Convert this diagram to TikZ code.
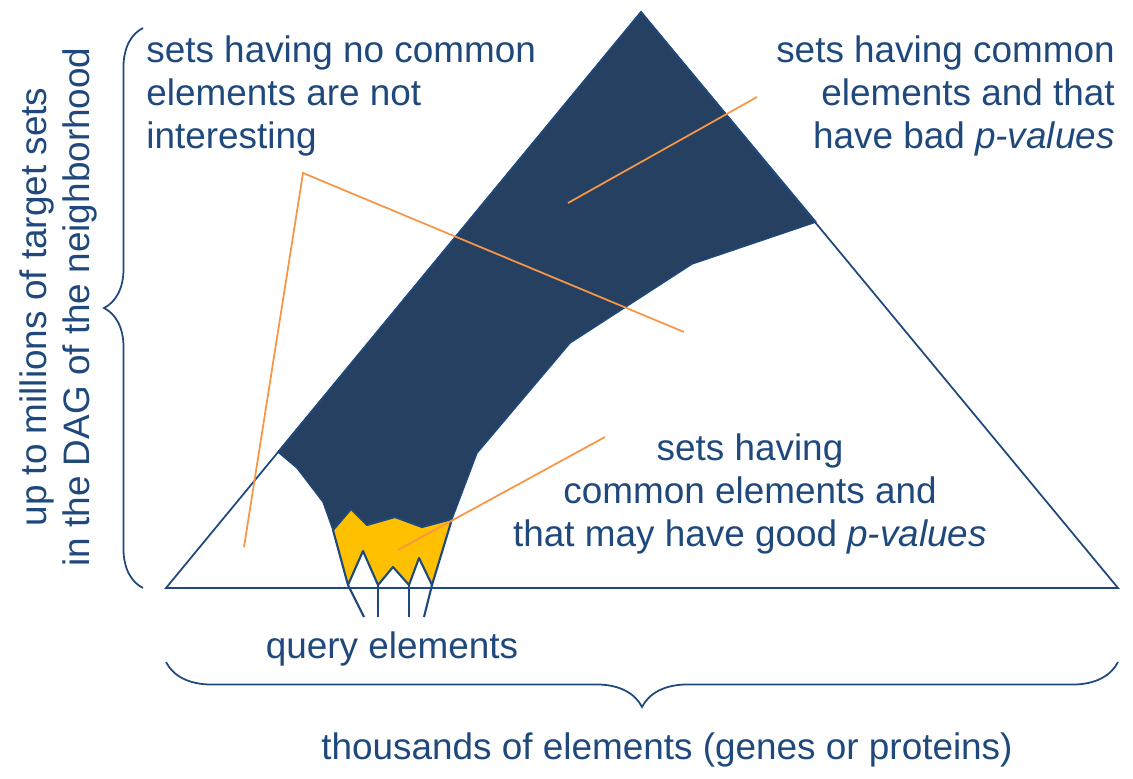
\documentclass[tikz,border=0pt]{standalone}
\usepackage{fontspec}
\setmainfont{Liberation Sans}
\usetikzlibrary{positioning,calc,decorations.pathreplacing}
\definecolor{textblue}{RGB}{31,73,125}
\definecolor{setnavy}{RGB}{38,64,98}
\definecolor{queryyellow}{RGB}{255,192,0}
\definecolor{pointorange}{RGB}{247,150,70}
\tikzset{
  labeltext/.style={text=textblue,font=\fontsize{21}{24.5}\selectfont,inner sep=0pt},
  outline/.style={draw=textblue,line width=1pt},
  darkset/.style={fill=setnavy,draw=textblue,line width=0.8pt,line join=round},
  goodset/.style={fill=queryyellow,draw=textblue,line width=1.2pt,line join=round},
  pointer/.style={draw=pointorange,line width=1pt},
  qline/.style={draw=textblue,line width=1.2pt},
  bracedeco/.style={draw=textblue,line width=1pt,decorate,decoration={brace,amplitude=#1}}
}

\begin{document}
\begin{tikzpicture}[x=0.02cm,y=-0.02cm]
  \useasboundingbox (0,0) rectangle (1133,778);
  % triangle corners
  \coordinate (apex) at (641,12);
  \coordinate (bl) at (166,588);
  \coordinate (br) at (1118,588);

  % sets with common elements
  \path[darkset] (278,452) -- (apex) -- (816,222) -- (692,264) -- (570,343)
    -- (477,453) -- (452,519) -- (422,527) -- (395,517) -- (367,525)
    -- (351,509) -- (333,530) -- (323,502) -- (297,468) -- cycle;
  \path[goodset] (333,530) -- (351,509) -- (367,525) -- (395,517) -- (422,527)
    -- (452,519) -- (432,585) -- (419,558) -- (409,585) -- (393,567)
    -- (378,585) -- (363,551) -- (348,585) -- cycle;

  \draw[outline] (bl) -- (apex) -- (br) -- cycle;
  \foreach \a/\b in {348/364,378/378,409/409,432/424}
    \draw[qline] (\a,585) -- (\b,617);

  % labels
  \node[labeltext,anchor=north west,align=left] (nocommon) at (146,35.5)
    {sets having no common\\elements are not\\interesting};
  \node[labeltext,anchor=north east,align=right] (badp) at (1115,35.5)
    {sets having common\\elements and that\\have bad \textit{p-values}};
  \node[labeltext,anchor=north,align=center] (goodp) at (750,433.5)
    {sets having\\common elements and\\that may have good \textit{p-values}};
  \node[labeltext] (query) at (392,649) {query elements};
  \node[labeltext] (thousands) at (667,750) {thousands of elements (genes or proteins)};
  \node[labeltext,rotate=90,align=center] (millions) at (58,307)
    {up to millions of target sets\\in the DAG of the neighborhood};

  % pointers
  \coordinate (ncvertex) at (303,173);
  \coordinate (ncleft) at (244,547);
  \coordinate (ncright) at (684,332);
  \coordinate (badstart) at (757,97);
  \coordinate (badend) at (568,203);
  \coordinate (goodstart) at (605,437);
  \coordinate (goodend) at (398,550);
  \draw[pointer] (ncleft) -- (ncvertex) -- (ncright);
  \draw[pointer] (badstart) -- (badend);
  \draw[pointer] (goodstart) -- (goodend);

  % braces
  \draw[bracedeco=0.78cm] (143,588) -- (143,28);
  \draw[bracedeco=0.9cm] (1118,662) -- (166,662);
\end{tikzpicture}
\end{document}
